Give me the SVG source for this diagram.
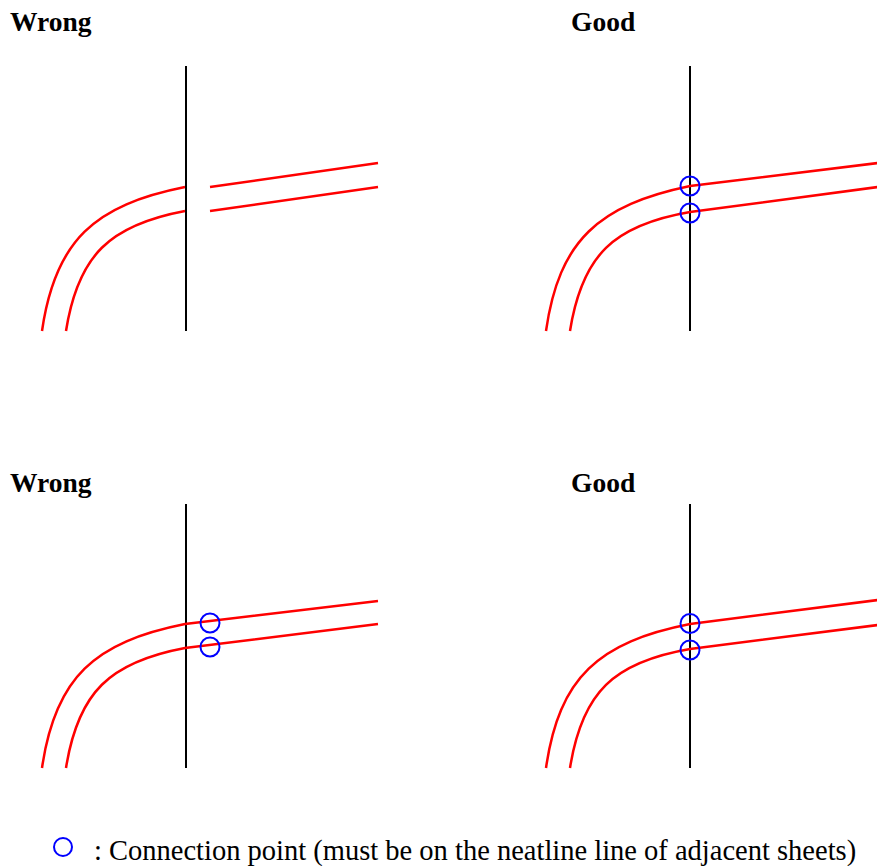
<svg xmlns="http://www.w3.org/2000/svg" width="877" height="866" viewBox="0 0 877 866">
<style>
.title{font-family:"Liberation Serif","Times New Roman",serif;font-weight:bold;font-size:27.5px;fill:#000}
.legend{font-family:"Liberation Serif","Times New Roman",serif;font-size:28.5px;fill:#000}
.neat{stroke:#000;stroke-width:2;fill:none}
.road{stroke:#ff0000;stroke-width:2.5;fill:none}
.pt{stroke:#0000ff;stroke-width:2;fill:none}
</style>
<rect width="877" height="866" fill="#fff"/>
<g id="panel-wrong-1">
<text class="title" x="10" y="31">Wrong</text>
<line class="neat" x1="186" y1="66" x2="186" y2="331"/>
<path class="road" d="M42,331 C55,240 95,205 185,187"/>
<path class="road" d="M66,331 C78,255 110,225 185,211"/>
<line class="road" x1="210" y1="187" x2="378" y2="163"/>
<line class="road" x1="210" y1="211" x2="378" y2="187"/>
</g>
<g id="panel-good-1">
<text class="title" x="571" y="31">Good</text>
<line class="neat" x1="690" y1="66" x2="690" y2="331"/>
<path class="road" d="M546,331 C559,240 599,205 690,186 L878,163"/>
<path class="road" d="M570,331 C582,255 614,225 690,212 L878,187"/>
<circle class="pt" cx="690" cy="186" r="9.5"/>
<circle class="pt" cx="690" cy="213" r="9.5"/>
</g>
<g id="panel-wrong-2">
<text class="title" x="10" y="492">Wrong</text>
<line class="neat" x1="186" y1="504" x2="186" y2="768"/>
<path class="road" d="M42,768 C55,677 95,642 185,624 L378,601"/>
<path class="road" d="M66,768 C78,692 110,662 185,648 L378,624"/>
<circle class="pt" cx="210" cy="623" r="9.5"/>
<circle class="pt" cx="210" cy="647" r="9.5"/>
</g>
<g id="panel-good-2">
<text class="title" x="571" y="492">Good</text>
<line class="neat" x1="690" y1="504" x2="690" y2="768"/>
<path class="road" d="M546,768 C559,677 599,642 690,624 L878,600"/>
<path class="road" d="M570,768 C582,692 614,662 690,649 L878,625"/>
<circle class="pt" cx="690" cy="623.5" r="9.5"/>
<circle class="pt" cx="690" cy="650" r="9.5"/>
</g>
<g id="legend">
<circle class="pt" cx="63" cy="847" r="9"/>
<text class="legend" x="94" y="860">: Connection point (must be on the neatline line of adjacent sheets)</text>
</g>
</svg>
